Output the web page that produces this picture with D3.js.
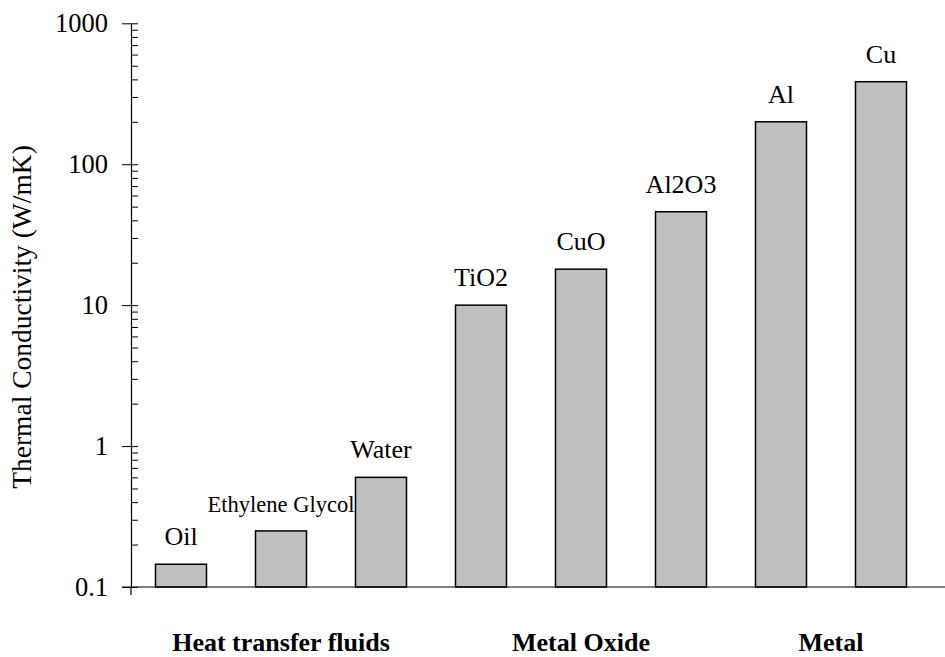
<!DOCTYPE html>
<html>
<head>
<meta charset="utf-8">
<script src="https://cdn.jsdelivr.net/npm/d3@7"></script>
<style>
  body { margin: 0; background: #fff; }
  svg { display: block; }
</style>
</head>
<body>
<svg id="chart" width="945" height="657"></svg>
<script>
const materials = ['Oil', 'Ethylene Glycol', 'Water', 'TiO2', 'CuO', 'Al2O3', 'Al', 'Cu'];
const conductivity = [0.145, 0.25, 0.6, 10, 18, 46, 200, 385];
const yTicks = [0.1, 1, 10, 100, 1000];
const groupNames = ['Heat transfer fluids', 'Metal Oxide', 'Metal'];
const groupMembers = [
    ['Oil', 'Ethylene Glycol', 'Water'],
    ['TiO2', 'CuO', 'Al2O3'],
    ['Al', 'Cu']
];

const serif = '"Liberation Serif", "Times New Roman", Times, serif';
const svg = d3.select('#chart').attr('font-family', serif);
const width = 945;
const plotLeft = 131, plotRight = 931, plotTop = 23.3, plotBottom = 587;

const x = d3.scaleBand()
    .domain(materials)
    .range([plotLeft, plotRight])
    .paddingInner(0.49)
    .paddingOuter(0.245);

const y = d3.scaleLog()
    .domain([0.1, 1000])
    .range([plotBottom, plotTop]);

// minor ticks, inside
const minor = [];
yTicks.slice(0, -1).forEach(d => {
    for (let k = 1; k <= 9; k++) minor.push(d * k);
});
minor.push(1000);

svg.append('g')
    .attr('transform', `translate(${plotLeft},0)`)
    .call(d3.axisRight(y).tickValues(minor).tickSize(7).tickSizeOuter(0).tickFormat(''))
    .call(g => g.select('.domain').remove())
    .call(g => g.selectAll('line').attr('stroke', '#000'));

// major ticks + labels
svg.append('g')
    .attr('transform', `translate(${plotLeft},0)`)
    .call(d3.axisLeft(y).tickValues(yTicks).tickSize(9).tickSizeOuter(0).tickPadding(14)
        .tickFormat(d => d3.format('~g')(d)))
    .attr('font-family', serif)
    .attr('font-size', 26.5)
    .call(g => g.select('.domain').attr('stroke', '#000').attr('stroke-width', 1.2))
    .call(g => g.selectAll('line').attr('stroke', '#000'))
    .call(g => g.selectAll('text').attr('fill', '#000'));

// bars
svg.append('g')
    .selectAll('rect')
    .data(materials)
    .join('rect')
    .attr('x', d => x(d))
    .attr('width', x.bandwidth())
    .attr('y', (d, i) => y(conductivity[i]))
    .attr('height', (d, i) => plotBottom - y(conductivity[i]))
    .attr('fill', '#c0c0c0')
    .attr('stroke', '#000')
    .attr('stroke-width', 1.5);

// bar labels
svg.append('g')
    .selectAll('text')
    .data(materials)
    .join('text')
    .attr('x', d => x(d) + x.bandwidth() / 2)
    .attr('y', (d, i) => y(conductivity[i]) - 19)
    .attr('text-anchor', 'middle')
    .attr('font-family', serif)
    .attr('font-size', d => d === 'Ethylene Glycol' ? 22.5 : 26)
    .text(d => d);

// x axis line
svg.append('line')
    .attr('x1', plotLeft - 9)
    .attr('x2', width)
    .attr('y1', plotBottom)
    .attr('y2', plotBottom)
    .attr('stroke', '#000')
    .attr('stroke-width', 1.2);

svg.append('line')
    .attr('x1', plotLeft)
    .attr('x2', plotLeft)
    .attr('y1', plotBottom)
    .attr('y2', plotBottom + 8)
    .attr('stroke', '#000')
    .attr('stroke-width', 1.2);

// group labels
svg.append('g')
    .selectAll('text')
    .data(groupNames)
    .join('text')
    .attr('x', (d, i) => d3.mean(groupMembers[i], m => x(m) + x.bandwidth() / 2))
    .attr('y', 651)
    .attr('text-anchor', 'middle')
    .attr('font-family', serif)
    .attr('font-weight', 'bold')
    .attr('font-size', 26)
    .text(d => d);

// y title
svg.append('text')
    .attr('transform', 'translate(31,317) rotate(-90)')
    .attr('text-anchor', 'middle')
    .attr('font-family', serif)
    .attr('font-size', 27.5)
    .text('Thermal Conductivity (W/mK)');
</script>
</body>
</html>
